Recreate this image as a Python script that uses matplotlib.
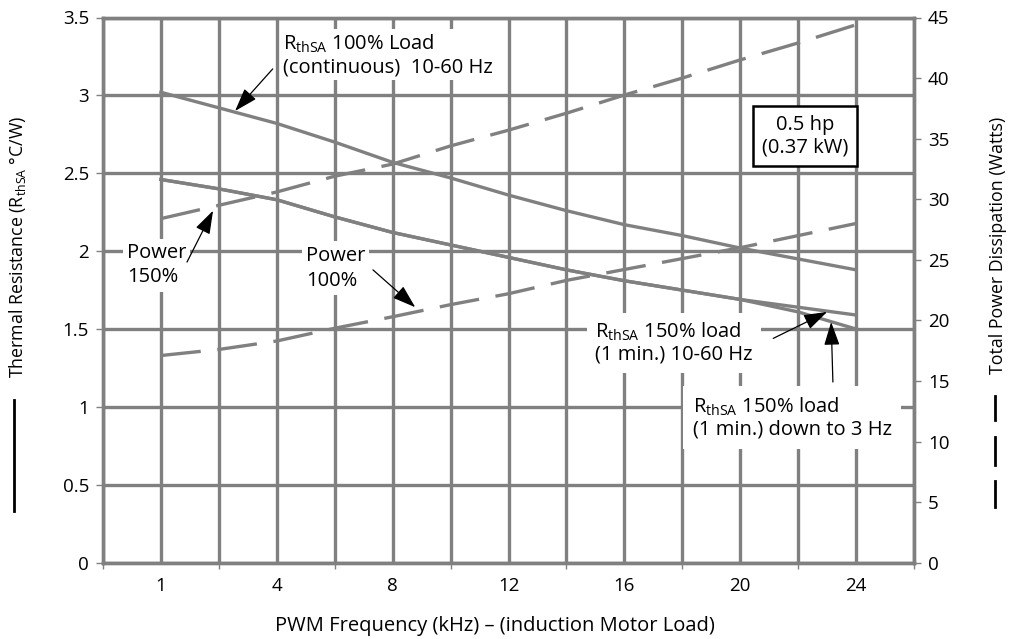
import numpy as np
import matplotlib
matplotlib.use('Agg')
import matplotlib.pyplot as plt
from matplotlib.lines import Line2D

plt.rcParams['font.family'] = ['Open Sans', 'DejaVu Sans']
plt.rcParams['mathtext.default'] = 'regular'

# data (13 points, one per vertical gridline)
freq_labels = ['1', '4', '8', '12', '16', '20', '24']
rth_100 = [3.02, 2.92, 2.82, 2.70, 2.57, 2.47, 2.36, 2.26, 2.17, 2.10, 2.02, 1.95, 1.88]
rth_150 = [2.46, 2.40, 2.33, 2.22, 2.12, 2.04, 1.96, 1.88, 1.81, 1.75, 1.69, 1.64, 1.59]
rth_150_3hz = [2.46, 2.40, 2.33, 2.22, 2.12, 2.04, 1.96, 1.88, 1.81, 1.75, 1.69, 1.61, 1.50]
pwr_150 = [28.4, 29.5, 30.6, 31.9, 32.9, 34.4, 35.7, 37.1, 38.6, 40.0, 41.5, 42.9, 44.4]
pwr_100 = [17.1, 17.6, 18.3, 19.35, 20.3, 21.3, 22.2, 23.3, 24.2, 25.1, 26.0, 27.0, 28.0]

grey = '#808080'
fs_tick = 13.5
fs_ann = 14.5
fs_ylab = 12.8

fig = plt.figure(figsize=(10.13, 6.39), dpi=100)
ax = fig.add_axes([103 / 1013, 1 - 562.7 / 639, 811 / 1013, 545.2 / 639])
ax2 = ax.twinx()

x = np.arange(len(rth_100)) + 1

ax.plot(x, rth_100, color=grey, lw=2.4, zorder=4)
ax.plot(x, rth_150, color=grey, lw=2.4, zorder=4)
ax.plot(x, rth_150_3hz, color=grey, lw=2.4, zorder=4)
ax2.plot(x, pwr_150, color=grey, lw=2.4, dashes=(12, 5))
ax2.plot(x, pwr_100, color=grey, lw=2.4, dashes=(12, 5))

# axes, ticks and grid
ax.set_xlim(0, 14)
ax.set_ylim(0, 3.5)
ax2.set_ylim(0, 45)
ax.set_xticks(np.arange(1, 14, 2))
ax.set_xticklabels(freq_labels)
ax.set_xticks(np.arange(0, 15, 2), minor=True)
ax.set_yticks(np.arange(0, 3.51, 0.5))
ax.set_yticklabels(['0', '0.5', '1', '1.5', '2', '2.5', '3', '3.5'])
ax2.set_yticks(np.arange(0, 46, 5))
ax.tick_params(axis='x', which='major', length=0, pad=10, labelsize=fs_tick)
ax.tick_params(axis='x', which='minor', length=4, color=grey, width=1)
ax.tick_params(axis='y', length=5, color=grey, width=1, labelsize=fs_tick, pad=5)
ax2.tick_params(axis='y', length=5, color=grey, width=1, labelsize=fs_tick, pad=5)

ax.grid(True, which='both', axis='x', color=grey, lw=2.4)
ax.grid(True, which='major', axis='y', color=grey, lw=2.4)
ax.set_axisbelow(True)
for a in (ax, ax2):
    for s in a.spines.values():
        s.set_color(grey)
        s.set_linewidth(2.4)

fig.text(495 / 1013, 1 - 626 / 639, 'PWM Frequency (kHz) \u2013 (induction Motor Load)',
         ha='center', va='center', fontsize=fs_ann)

# side labels with line-style keys
fig.text(18 / 1013, 1 - 247 / 639, 'Thermal Resistance (R$_{thSA}$ \u00b0C/W)', rotation=90,
         ha='center', va='center', fontsize=fs_ylab)
fig.add_artist(Line2D([14 / 1013, 14 / 1013], [1 - 400 / 639, 1 - 511 / 639], color='black', lw=2))
fig.text(998 / 1013, 1 - 245 / 639, 'Total Power Dissipation (Watts)', rotation=90,
         ha='center', va='center', fontsize=fs_ylab)
for y0, y1 in [(396, 420), (437, 465), (481, 507)]:
    fig.add_artist(Line2D([995 / 1013, 995 / 1013], [1 - y0 / 639, 1 - y1 / 639], color='black', lw=2))

# annotations
arrow = dict(arrowstyle='-|>,head_length=0.9,head_width=0.3', color='black', lw=0.9,
             mutation_scale=16, shrinkA=0, shrinkB=0)

ax.annotate('', xy=(2.28, 2.90), xytext=(2.93, 3.17), arrowprops=arrow, zorder=5)
ax.text(3.1, 3.26, 'R$_{thSA}$ 100% Load\n(continuous)  10-60 Hz', fontsize=fs_ann,
        ha='left', va='center', linespacing=1.15, bbox=dict(fc='white', ec='none', pad=2), zorder=3)

ax.annotate('', xy=(1.90, 2.26), xytext=(1.45, 1.93), arrowprops=arrow, zorder=5)
ax.text(0.41, 1.91, 'Power\n150%', fontsize=fs_ann, ha='left', va='center', linespacing=1.3,
        bbox=dict(fc='white', ec='none', pad=3), zorder=3)

ax.annotate('', xy=(5.39, 1.64), xytext=(4.66, 1.88), arrowprops=arrow, zorder=5)
ax.text(3.5, 1.89, 'Power\n100%', fontsize=fs_ann, ha='left', va='center', linespacing=1.35,
        bbox=dict(fc='white', ec='none', pad=3), zorder=3)

ax.annotate('', xy=(12.50, 1.61), xytext=(11.57, 1.44), arrowprops=arrow, zorder=5)
ax.text(8.49, 1.41, 'R$_{thSA}$ 150% load\n(1 min.) 10-60 Hz', fontsize=fs_ann,
        ha='left', va='center', linespacing=1.1, bbox=dict(fc='white', ec='none', pad=6), zorder=3)

ax.annotate('', xy=(12.57, 1.545), xytext=(12.60, 1.16), arrowprops=arrow, zorder=5)
ax.text(10.18, 0.93, 'R$_{thSA}$ 150% load\n(1 min.) down to 3 Hz', fontsize=fs_ann,
        ha='left', va='center', linespacing=1.1, bbox=dict(fc='white', ec='none', pad=7), zorder=3)

ax.text(12.12, 2.74, '0.5 hp\n(0.37 kW)', fontsize=fs_ann, ha='center', va='center',
        linespacing=1.15, bbox=dict(boxstyle='square,pad=0.45', fc='white', ec='black', lw=1.8),
        zorder=3)

fig.savefig('out.png', dpi=100)
